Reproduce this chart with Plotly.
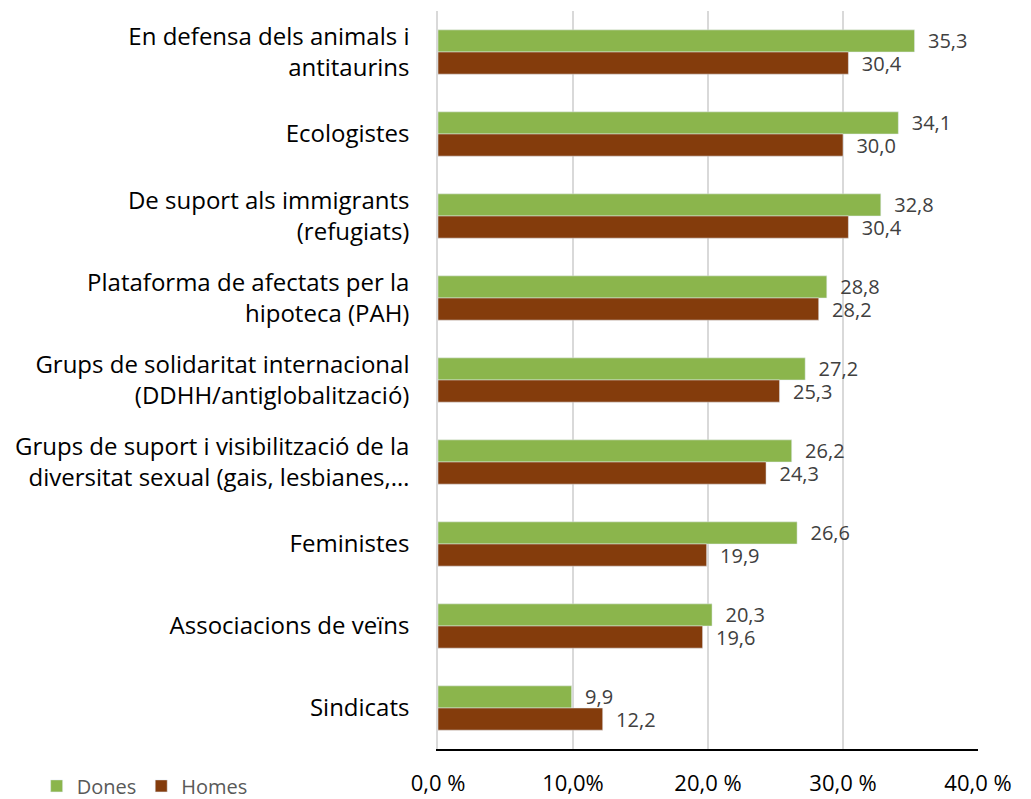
import plotly.graph_objects as go

categories = [
    "En defensa dels animals i<br>antitaurins",
    "Ecologistes",
    "De suport als immigrants<br>(refugiats)",
    "Plataforma de afectats per la<br>hipoteca (PAH)",
    "Grups de solidaritat internacional<br>(DDHH/antiglobalització)",
    "Grups de suport i visibilització de la<br>diversitat sexual (gais, lesbianes,…",
    "Feministes",
    "Associacions de veïns",
    "Sindicats",
]
dones = [35.3, 34.1, 32.8, 28.8, 27.2, 26.2, 26.6, 20.3, 9.9]
homes = [30.4, 30.0, 30.4, 28.2, 25.3, 24.3, 19.9, 19.6, 12.2]
tick_vals = [0, 10, 20, 30, 40]
tick_text = ["0,0 %", "10,0%", "20,0 %", "30,0 %", "40,0 %"]

FONT = "Open Sans"

def fmt(v):
    return "  " + f"{v:.1f}".replace(".", ",")

fig = go.Figure()
fig.add_trace(go.Bar(
    y=categories, x=dones, name="Dones", orientation="h",
    marker=dict(color="#8BB54C"),
    text=[fmt(v) for v in dones], textposition="outside",
    textfont=dict(family=FONT, size=20, color="#404040"),
    constraintext="none", cliponaxis=False,
))
fig.add_trace(go.Bar(
    y=categories, x=homes, name="Homes", orientation="h",
    marker=dict(color="#843C0C"),
    text=[fmt(v) for v in homes], textposition="outside",
    textfont=dict(family=FONT, size=20, color="#404040"),
    constraintext="none", cliponaxis=False,
))

fig.update_layout(
    width=1023, height=791,
    barmode="group", bargap=0.46, bargroupgap=0,
    plot_bgcolor="white", paper_bgcolor="white",
    margin=dict(l=430, r=53, t=3, b=50, autoexpand=False),
    font=dict(family=FONT, size=24, color="black"),
    showlegend=True,
    legend=dict(
        orientation="h", xref="container", yref="paper",
        x=0.028, y=-0.050, xanchor="left", yanchor="middle",
        font=dict(family=FONT, size=20, color="#595959"),
        itemwidth=30, tracegroupgap=0,
    ),
    uniformtext=dict(mode=False),
)
fig.update_xaxes(
    range=[0, 40], tickvals=tick_vals, ticktext=tick_text,
    showgrid=True, gridcolor="#D9D9D9", gridwidth=1.5,
    zeroline=False, showline=True, linecolor="black", linewidth=2,
    ticks="", ticklabelstandoff=14, automargin=False,
    tickfont=dict(family=FONT, size=22, color="black"),
)
fig.update_yaxes(
    autorange="reversed", showgrid=False, zeroline=False,
    showline=True, linecolor="#D9D9D9", linewidth=1.5,
    ticks="", ticklabelstandoff=22, automargin=False,
    tickfont=dict(family=FONT, size=24, color="black"),
)

fig.write_html("out.html")
